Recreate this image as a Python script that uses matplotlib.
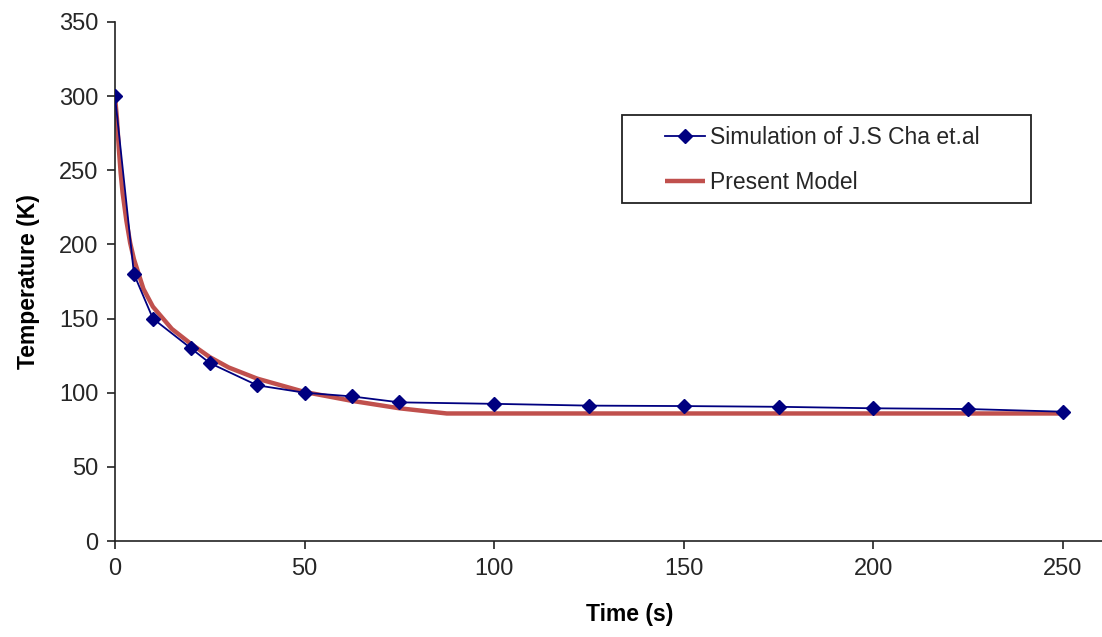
import numpy as np
import matplotlib
matplotlib.use('Agg')
import matplotlib.pyplot as plt
from matplotlib.patches import Rectangle

plt.rcParams['font.family'] = ['Liberation Sans', 'DejaVu Sans']

# simulation results (J.S Cha et al.)
t_sim = [0, 5, 10, 20, 25, 37.5, 50, 62.5, 75, 100, 125, 150, 175, 200, 225, 250]
T_sim = [300, 180, 150, 130, 120, 105, 100, 97.5, 93.5, 92.5, 91.3, 91, 90.5, 89.5, 89, 87.2]

# present model
t_model = [0, 0.5, 1, 1.5, 2, 3, 4, 5, 7.5, 10, 15, 20, 25, 30, 37.5, 50, 62.5, 75, 87.5, 250]
T_model = [300, 285, 265, 248, 235, 216, 201, 190, 170, 158, 143, 133, 124, 117, 109.5,
           100.5, 94.5, 89.5, 86, 86]

W, H = 1102, 637
fig = plt.figure(figsize=(W / 100, H / 100), dpi=100)
ax = fig.add_axes([115 / W, 1 - 541 / H, (W - 115) / W, (541 - 22) / H])

ax.plot(t_sim, T_sim, color='#000080', lw=1.3, marker='D', markersize=7,
        markerfacecolor='#000080', markeredgecolor='#000080',
        label='Simulation of J.S Cha et.al', zorder=3)
ax.plot(t_model, T_model, color='#C0504D', lw=3.2, solid_capstyle='butt',
        label='Present Model', zorder=2)

ax.set_xlim(0, 260.3)
ax.set_ylim(0, 350)
ax.set_xticks(np.arange(0, 251, 50))
ax.set_yticks(np.arange(0, 351, 50))
for s in ['top', 'right']:
    ax.spines[s].set_visible(False)
for s in ['left', 'bottom']:
    ax.spines[s].set_linewidth(1.2)
    ax.spines[s].set_color('#222222')
ax.tick_params(direction='out', length=6, width=1.2, labelsize=17,
               labelcolor='#262626', color='#222222', pad=6)
ax.set_xlabel('Time (s)', fontsize=16.5, fontweight='bold')
ax.xaxis.set_label_coords((630 - 115) / (W - 115), -(603 - 541) / (541 - 22))
ax.set_ylabel('Temperature (K)', fontsize=16.5, fontweight='bold', labelpad=14)

# legend entries without frame, box drawn separately
leg = ax.legend(loc='upper left', bbox_to_anchor=(665 / W, 1 - 126 / H),
                bbox_transform=fig.transFigure, fontsize=16.5, frameon=False,
                borderpad=0, labelspacing=0.98, handlelength=1.75,
                handletextpad=0.22, borderaxespad=0)
for txt in leg.get_texts():
    txt.set_color('#262626')
fig.patches.append(Rectangle((622 / W, 1 - 203 / H), 409 / W, 88 / H,
                             transform=fig.transFigure, fill=False,
                             edgecolor='#222222', linewidth=1.3, zorder=5))

fig.savefig('out.png', dpi=100)
